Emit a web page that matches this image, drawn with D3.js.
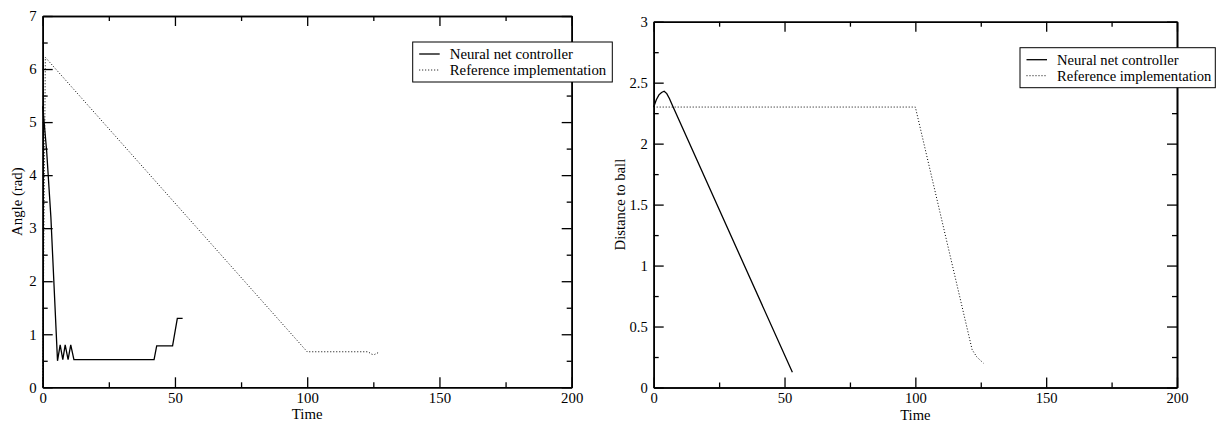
<!DOCTYPE html>
<html>
<head>
<meta charset="utf-8">
<script src="https://cdn.jsdelivr.net/npm/d3@7"></script>
<style>
  html, body { margin: 0; padding: 0; background: #fff; }
  svg { display: block; }
  svg text { font-family: "Liberation Serif", "Times New Roman", "DejaVu Serif", serif; fill: #000; }
</style>
</head>
<body>
<svg id="chart" width="1216" height="421"></svg>
<script>
// ---- data: [time, value] samples ----
const angleNeural = [[0, 5.3], [1.5, 4.45], [3.1, 3.2], [5.6, 0.5], [6.6, 0.8], [7.6, 0.52],
  [8.5, 0.8], [9.6, 0.52], [10.6, 0.8], [11.8, 0.52], [42.1, 0.52], [43.1, 0.78],
  [49.1, 0.78], [50.9, 1.3], [52.9, 1.3]];
const angleReference = [[0, 0], [1, 6.22], [100, 0.67], [123, 0.67], [124.5, 0.62],
  [125.5, 0.62], [127.3, 0.665]];

const distNeural = [[0, 2.30], [1, 2.36], [2, 2.40], [3, 2.42], [4, 2.43], [5, 2.41],
  [6, 2.37], [7, 2.32], [53, 0.125]];
const distReference = [[0, 2.30], [100, 2.30], [121.7, 0.31], [123.5, 0.25], [126, 0.2]];

const seriesNames = ["Neural net controller", "Reference implementation"];

const timeMajorTicks = [0, 50, 100, 150, 200];
const timeMinorTicks = [25, 75, 125, 175];
const angleMajorTicks = [0, 1, 2, 3, 4, 5, 6, 7];
const angleMinorTicks = [0.5, 1.5, 2.5, 3.5, 4.5, 5.5, 6.5];
const distMajorTicks = [0, 0.5, 1, 1.5, 2, 2.5, 3];
const distMinorTicks = [0.25, 0.75, 1.25, 1.75, 2.25, 2.75];

const svg = d3.select("#chart");

function panel(cfg) {
  const x = d3.scaleLinear().domain([0, 200]).range([cfg.left, cfg.right]);
  const y = d3.scaleLinear().domain(cfg.yDomain).range([cfg.bottom, cfg.top]);
  const g = svg.append("g");
  const fs = cfg.fontSize;

  const styleAxis = sel => {
    sel.attr("font-family", null);
    sel.select(".domain").attr("stroke", "#000").attr("stroke-width", 1.6);
    sel.selectAll(".tick line").attr("stroke", "#000").attr("stroke-width", 1.3);
    sel.selectAll("text").attr("font-size", fs);
  };

  // minor ticks on all four sides
  g.append("g").attr("transform", `translate(0,${cfg.bottom})`)
    .call(d3.axisBottom(x).tickValues(timeMinorTicks).tickSize(-5).tickSizeOuter(0).tickFormat(""))
    .call(styleAxis);
  g.append("g").attr("transform", `translate(0,${cfg.top})`)
    .call(d3.axisTop(x).tickValues(timeMinorTicks).tickSize(-5).tickSizeOuter(0).tickFormat(""))
    .call(styleAxis);
  g.append("g").attr("transform", `translate(${cfg.left},0)`)
    .call(d3.axisLeft(y).tickValues(cfg.yMinor).tickSize(-5).tickSizeOuter(0).tickFormat(""))
    .call(styleAxis);
  g.append("g").attr("transform", `translate(${cfg.right},0)`)
    .call(d3.axisRight(y).tickValues(cfg.yMinor).tickSize(-5).tickSizeOuter(0).tickFormat(""))
    .call(styleAxis);

  // major ticks, labelled on bottom and left
  g.append("g").attr("transform", `translate(0,${cfg.bottom})`)
    .call(d3.axisBottom(x).tickValues(timeMajorTicks).tickSize(-10).tickSizeOuter(0).tickPadding(5).tickFormat(d3.format("d")))
    .call(styleAxis);
  g.append("g").attr("transform", `translate(0,${cfg.top})`)
    .call(d3.axisTop(x).tickValues(timeMajorTicks).tickSize(-10).tickSizeOuter(0).tickFormat(""))
    .call(styleAxis);
  g.append("g").attr("transform", `translate(${cfg.left},0)`)
    .call(d3.axisLeft(y).tickValues(cfg.yMajor).tickSize(-10).tickSizeOuter(0).tickPadding(6).tickFormat(d => String(d)))
    .call(styleAxis);
  g.append("g").attr("transform", `translate(${cfg.right},0)`)
    .call(d3.axisRight(y).tickValues(cfg.yMajor).tickSize(-10).tickSizeOuter(0).tickFormat(""))
    .call(styleAxis);

  // axis titles
  g.append("text")
    .attr("x", (cfg.left + cfg.right) / 2).attr("y", cfg.bottom + 32)
    .attr("text-anchor", "middle").attr("font-size", fs).text("Time");
  g.append("text")
    .attr("transform", `translate(${cfg.yTitleX},${(cfg.top + cfg.bottom) / 2}) rotate(-90)`)
    .attr("text-anchor", "middle").attr("font-size", fs).text(cfg.yTitle);

  // data lines
  const line = d3.line().x(d => x(d[0])).y(d => y(d[1]));
  g.append("path").datum(cfg.reference).attr("d", line)
    .attr("fill", "none").attr("stroke", "#000").attr("stroke-width", 1)
    .attr("stroke-dasharray", "1,2");
  g.append("path").datum(cfg.neural).attr("d", line)
    .attr("fill", "none").attr("stroke", "#000").attr("stroke-width", 1.3);

  // legend
  const lx = cfg.legendX, ly = cfg.top + 26;
  const lg = g.append("g").attr("transform", `translate(${lx},${ly})`);
  lg.append("rect").attr("x", 0).attr("y", 0).attr("width", cfg.legendW).attr("height", 40)
    .attr("fill", "#fff").attr("stroke", "#000").attr("stroke-width", 1);
  const rows = [{ name: seriesNames[0], dash: null, w: 1.3 }, { name: seriesNames[1], dash: "1,2", w: 1 }];
  rows.forEach((r, i) => {
    const yy = 12 + i * 16;
    lg.append("line").attr("x1", 6.5).attr("x2", 27).attr("y1", yy).attr("y2", yy)
      .attr("stroke", "#000").attr("stroke-width", r.w).attr("stroke-dasharray", r.dash);
    lg.append("text").attr("x", 37).attr("y", yy + 5).attr("font-size", fs).text(r.name);
  });
}

panel({
  left: 42.7, right: 571.7, top: 16, bottom: 387.3,
  yDomain: [0, 7], yMajor: angleMajorTicks, yMinor: angleMinorTicks,
  yTitle: "Angle (rad)", yTitleX: 22,
  neural: angleNeural, reference: angleReference,
  legendX: 412.7, legendW: 199.6, fontSize: 14.8
});

panel({
  left: 653.7, right: 1177, top: 21.7, bottom: 387.5,
  yDomain: [0, 3], yMajor: distMajorTicks, yMinor: distMinorTicks,
  yTitle: "Distance to ball", yTitleX: 625,
  neural: distNeural, reference: distReference,
  legendX: 1020, legendW: 195.3, fontSize: 14.6
});
</script>
</body>
</html>
